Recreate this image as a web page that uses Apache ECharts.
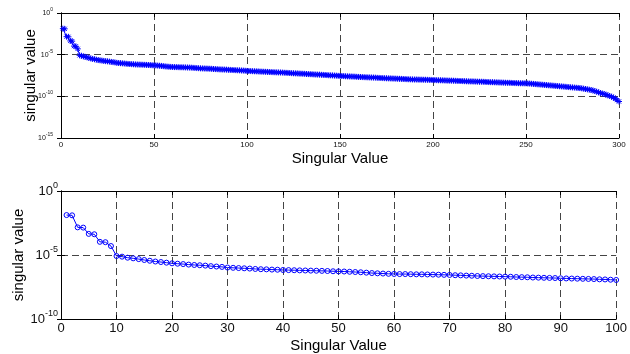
<!DOCTYPE html>
<html>
<head>
<meta charset="utf-8">
<script src="https://cdn.jsdelivr.net/npm/echarts@6/dist/echarts.min.js"></script>
<style>
html,body{margin:0;padding:0;background:#fff;}
#chart{width:630px;height:354px;}
</style>
</head>
<body>
<div id="chart"></div>
<script>
// log10 of the singular values (index 1..300)
const logSigma = [
-1.88,-1.90,-2.84,-2.86,-3.35,-3.38,-3.97,-4.00,-4.30,-5.08,
-5.13,-5.21,-5.26,-5.32,-5.39,-5.45,-5.51,-5.55,-5.60,-5.65,
-5.68,-5.71,-5.75,-5.78,-5.80,-5.83,-5.87,-5.90,-5.93,-5.98,
-6.00,-6.02,-6.04,-6.06,-6.09,-6.11,-6.12,-6.14,-6.15,-6.17,
-6.18,-6.19,-6.20,-6.21,-6.22,-6.23,-6.24,-6.25,-6.27,-6.28,
-6.29,-6.31,-6.33,-6.35,-6.38,-6.41,-6.43,-6.45,-6.47,-6.48,
-6.49,-6.49,-6.50,-6.51,-6.51,-6.52,-6.53,-6.54,-6.55,-6.56,
-6.58,-6.59,-6.61,-6.62,-6.64,-6.65,-6.66,-6.67,-6.68,-6.69,
-6.70,-6.72,-6.73,-6.74,-6.76,-6.77,-6.78,-6.79,-6.80,-6.82,
-6.83,-6.84,-6.85,-6.86,-6.87,-6.88,-6.90,-6.91,-6.93,-6.95,
-6.96,-6.97,-6.98,-6.99,-7.00,-7.01,-7.03,-7.04,-7.05,-7.06,
-7.07,-7.08,-7.09,-7.10,-7.11,-7.12,-7.13,-7.14,-7.15,-7.17,
-7.18,-7.19,-7.20,-7.22,-7.23,-7.24,-7.25,-7.27,-7.28,-7.29,
-7.30,-7.32,-7.33,-7.34,-7.35,-7.37,-7.38,-7.39,-7.40,-7.42,
-7.43,-7.44,-7.45,-7.47,-7.48,-7.49,-7.51,-7.52,-7.54,-7.55,
-7.56,-7.57,-7.59,-7.60,-7.61,-7.62,-7.63,-7.64,-7.66,-7.67,
-7.68,-7.69,-7.70,-7.71,-7.72,-7.73,-7.74,-7.75,-7.76,-7.78,
-7.79,-7.80,-7.81,-7.82,-7.83,-7.84,-7.85,-7.86,-7.87,-7.88,
-7.89,-7.90,-7.91,-7.92,-7.93,-7.94,-7.95,-7.96,-7.97,-7.98,
-7.98,-7.99,-8.00,-8.00,-8.01,-8.01,-8.02,-8.03,-8.03,-8.04,
-8.05,-8.06,-8.07,-8.07,-8.08,-8.09,-8.10,-8.11,-8.12,-8.12,
-8.13,-8.14,-8.15,-8.16,-8.16,-8.17,-8.18,-8.19,-8.20,-8.21,
-8.21,-8.22,-8.23,-8.24,-8.25,-8.25,-8.26,-8.27,-8.28,-8.29,
-8.30,-8.30,-8.31,-8.32,-8.33,-8.34,-8.35,-8.36,-8.37,-8.38,
-8.38,-8.39,-8.40,-8.41,-8.41,-8.42,-8.43,-8.43,-8.44,-8.44,
-8.46,-8.47,-8.49,-8.51,-8.53,-8.55,-8.57,-8.59,-8.61,-8.63,
-8.65,-8.67,-8.69,-8.71,-8.73,-8.75,-8.77,-8.79,-8.81,-8.83,
-8.85,-8.87,-8.89,-8.91,-8.93,-8.95,-8.97,-8.99,-9.01,-9.04,
-9.08,-9.12,-9.16,-9.20,-9.24,-9.30,-9.37,-9.44,-9.52,-9.60,
-9.66,-9.72,-9.80,-9.88,-9.96,-10.04,-10.15,-10.28,-10.45,-10.62
];
const topXTicks = [0, 50, 100, 150, 200, 250, 300];
const bottomXTicks = [0, 10, 20, 30, 40, 50, 60, 70, 80, 90, 100];
const topYExponents = [-15, -10, -5, 0];
const bottomYExponents = [-10, -5, 0];
const bottomCount = 100;
const xLabel = 'Singular Value';
const yLabel = 'singular value';

const sigma = logSigma.map(v => Math.pow(10, v));
const topData = sigma.map((v, i) => [i + 1, v]);
const bottomData = sigma.slice(0, bottomCount).map((v, i) => [i + 1, v]);

const FONT = 'Liberation Sans, Arial, sans-serif';
const gridDash = { color: '#444', width: 1, type: [7, 4] };

function expLabel(v) {
  const e = Math.round(Math.log10(v));
  return '{b|10}{s|' + e + '}';
}

function xAxisMain(gridIndex, min, max, interval, fontSize, margin, nameGap) {
  return {
    type: 'value', gridIndex, min, max, interval, position: 'bottom',
    axisLine: { show: true, lineStyle: { color: '#000', width: 1 } },
    axisTick: { show: true, inside: true, length: 4, lineStyle: { color: '#000' } },
    axisLabel: { show: true, fontFamily: FONT, fontSize, color: '#111', margin },
    splitLine: { show: true, lineStyle: gridDash },
    name: xLabel, nameLocation: 'middle', nameGap, nameMoveOverlap: false,
    nameTextStyle: { fontFamily: FONT, fontSize: 15, color: '#000' }
  };
}
function xAxisTop(gridIndex, min, max, interval) {
  return {
    type: 'value', gridIndex, min, max, interval, position: 'top',
    axisLine: { show: true, lineStyle: { color: '#000', width: 1 } },
    axisTick: { show: true, inside: true, length: 4, lineStyle: { color: '#000' } },
    axisLabel: { show: false }, splitLine: { show: false }
  };
}
function yAxisMain(gridIndex, minExp, fs, ss, lh, margin, nameGap) {
  return {
    type: 'log', logBase: 10, gridIndex, min: Math.pow(10, minExp), max: 1, interval: 5,
    position: 'left',
    axisLine: { show: true, lineStyle: { color: '#000', width: 1 } },
    axisTick: { show: true, inside: true, length: 4, lineStyle: { color: '#000' } },
    axisLabel: {
      show: true, margin, formatter: expLabel, align: 'right',
      rich: {
        b: { fontFamily: FONT, fontSize: fs, color: '#111', lineHeight: lh, verticalAlign: 'middle' },
        s: { fontFamily: FONT, fontSize: ss, color: '#111', verticalAlign: 'top' }
      }
    },
    splitLine: { show: true, lineStyle: gridDash },
    name: yLabel, nameLocation: 'middle', nameGap, nameMoveOverlap: false,
    nameTextStyle: { fontFamily: FONT, fontSize: 15, color: '#000' }
  };
}
function yAxisRight(gridIndex, minExp) {
  return {
    type: 'log', logBase: 10, gridIndex, min: Math.pow(10, minExp), max: 1, interval: 5,
    position: 'right',
    axisLine: { show: true, lineStyle: { color: '#000', width: 1 } },
    axisTick: { show: true, inside: true, length: 4, lineStyle: { color: '#000' } },
    axisLabel: { show: false }, splitLine: { show: false }
  };
}

const chart = echarts.init(document.getElementById('chart'), null, { renderer: 'canvas' });
chart.setOption({
  animation: false,
  backgroundColor: '#fff',
  grid: [
    { left: 61, top: 13, width: 558, height: 125, show: false },
    { left: 61, top: 191, width: 558, height: 128, show: false }
  ],
  xAxis: [
    xAxisMain(0, topXTicks[0], topXTicks[topXTicks.length - 1], 50, 8, 3, 13),
    xAxisMain(1, bottomXTicks[0], bottomXTicks[bottomXTicks.length - 1], 10, 13, 3, 19),
    xAxisTop(0, topXTicks[0], topXTicks[topXTicks.length - 1], 50),
    xAxisTop(1, bottomXTicks[0], bottomXTicks[bottomXTicks.length - 1], 10)
  ],
  yAxis: [
    yAxisMain(0, topYExponents[0], 7, 5, 12, 8, 23),
    yAxisMain(1, bottomYExponents[0], 13, 9, 20, 3, 35),
    yAxisRight(0, topYExponents[0]),
    yAxisRight(1, bottomYExponents[0])
  ],
  series: [
    {
      type: 'line', xAxisIndex: 0, yAxisIndex: 0, data: topData,
      symbol: 'path://M0,-5L0,5M-5,0L5,0M-3.5,-3.5L3.5,3.5M-3.5,3.5L3.5,-3.5',
      symbolSize: 6, showAllSymbol: true,
      lineStyle: { color: '#0000ff', width: 1 },
      itemStyle: { color: '#0000ff', borderColor: '#0000ff', borderWidth: 1 },
      z: 5
    },
    {
      type: 'line', xAxisIndex: 1, yAxisIndex: 1, data: bottomData,
      symbol: 'circle', symbolSize: 5, showAllSymbol: true,
      lineStyle: { color: '#0000ff', width: 1 },
      itemStyle: { color: 'rgba(0,0,0,0)', borderColor: '#0000ff', borderWidth: 1 },
      z: 5
    }
  ]
});
</script>
</body>
</html>
